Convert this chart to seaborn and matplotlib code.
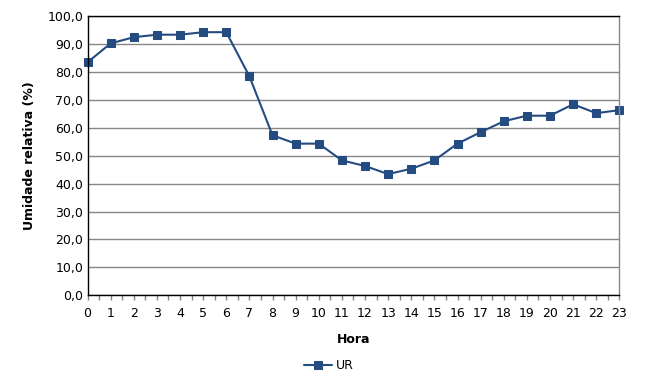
import pandas as pd
import matplotlib
matplotlib.use('Agg')
import matplotlib.pyplot as plt
import seaborn as sns
from matplotlib.ticker import FuncFormatter, MultipleLocator

# hourly relative humidity readings
hours = list(range(24))
ur = [83.4, 90.2, 92.4, 93.3, 93.3, 94.2, 94.2, 78.4, 57.3, 54.3, 54.3, 48.3,
      46.3, 43.4, 45.3, 48.3, 54.3, 58.4, 62.3, 64.3, 64.3, 68.4, 65.2, 66.3]
y_ticks = [0, 10, 20, 30, 40, 50, 60, 70, 80, 90, 100]

df = pd.DataFrame({'Hora': hours, 'UR': ur})

sns.set_style("white")
plt.rcParams['font.family'] = ['DejaVu Sans']
plt.rcParams['text.color'] = 'black'
plt.rcParams['axes.labelcolor'] = 'black'
plt.rcParams['xtick.color'] = 'black'
plt.rcParams['ytick.color'] = 'black'

fig = plt.figure(figsize=(6.66, 3.88), dpi=100)
ax = fig.add_axes([0.1314, 0.2389, 0.7986, 0.7199])

color = '#254C80'
sns.lineplot(data=df, x='Hora', y='UR', marker='s', color=color, lw=1.5,
             markersize=6, markeredgecolor=color, label='UR', ax=ax, clip_on=False)

ax.set_xlim(0, 23)
ax.set_ylim(0, 100)
ax.set_yticks(y_ticks)
ax.set_xticks(hours)
ax.xaxis.set_minor_locator(MultipleLocator(0.5))
ax.yaxis.set_major_formatter(FuncFormatter(lambda v, p: f"{v:.1f}".replace('.', ',')))
ax.grid(axis='y', color='#878787', lw=1)
ax.set_axisbelow(True)

for s in ['left', 'bottom', 'top']:
    ax.spines[s].set_color('black')
    ax.spines[s].set_linewidth(1)
ax.spines['right'].set_color('#878787')
ax.spines['right'].set_linewidth(1)

ax.tick_params(axis='x', which='both', bottom=True, direction='out', length=3.5,
               color='#878787', width=1, labelsize=9, pad=5, labelcolor='black')
ax.tick_params(axis='y', which='both', length=0, labelsize=9, pad=3, labelcolor='black')

ax.set_xlabel('Hora', fontsize=9, fontweight='bold', labelpad=9)
ax.set_ylabel('Umidade relativa (%)', fontsize=9, fontweight='bold', labelpad=8)

ax.get_legend().remove()
fig.legend(*ax.get_legend_handles_labels(), loc='center', bbox_to_anchor=(0.494, 0.057),
           frameon=False, fontsize=9, handlelength=2.2, handletextpad=0.3)

fig.savefig('out.png', dpi=100)
